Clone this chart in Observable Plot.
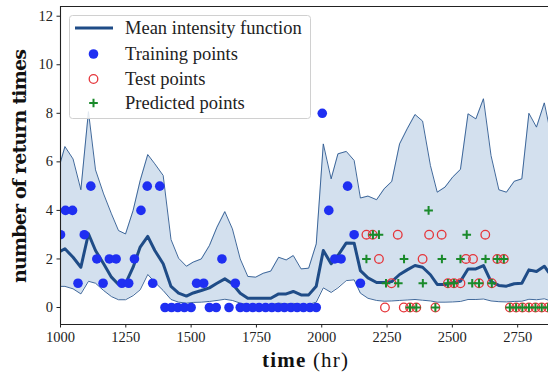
<!DOCTYPE html>
<html><head><meta charset="utf-8">
<script src="https://cdn.jsdelivr.net/npm/d3@7"></script>
<script src="https://cdn.jsdelivr.net/npm/@observablehq/plot@0.6"></script>
<style>
html,body{margin:0;padding:0;background:#fff;overflow:hidden;}
</style>
</head><body><div id="chart"></div>
<script>
// ---- data ----
const bandT = [1000,1017,1048,1078,1107,1134,1165,1195,1222,1249,1278,1305,1334,1361,1393,1423,1452,1482,1508,1539,1570,1599,1629,1658,1688,1717,1747,1776,1805,1835,1864,1891,1921,1950,1979,2006,2036,2062,2094,2124,2148,2177,2210,2239,2268,2298,2327,2357,2386,2416,2442,2472,2501,2531,2560,2590,2619,2648,2678,2707,2737,2766,2793,2822,2852,2868];
const upper = [5.99,6.63,6.12,4.85,8.07,5.67,4.68,3.86,3.17,3.03,4.0,5.23,6.30,5.92,5.44,2.80,2.03,1.70,1.87,2.0,2.55,3.31,3.95,3.24,2.0,1.28,1.25,1.41,1.50,2.07,1.96,2.14,1.59,1.62,2.62,6.74,5.30,6.33,6.43,6.06,4.51,4.59,4.44,4.89,5.19,6.74,7.36,7.95,7.68,5.85,4.75,4.96,5.37,5.69,7.98,7.77,8.60,6.26,4.85,4.75,5.20,5.30,8.0,7.43,8.43,7.6];
const meanI = [2.32,2.42,2.07,1.66,3.04,2.35,1.80,1.25,0.95,0.98,1.66,2.49,2.93,2.35,1.80,0.87,0.59,0.47,0.60,0.70,0.81,1.00,1.18,0.98,0.59,0.38,0.38,0.38,0.38,0.56,0.56,0.66,0.52,0.52,0.88,2.35,1.80,2.14,2.66,2.65,1.52,1.22,1.03,1.03,1.07,1.36,1.55,1.73,1.66,1.35,0.95,0.95,1.02,1.08,1.59,1.59,1.73,1.07,0.91,0.88,0.98,1.00,1.55,1.48,1.70,1.46];
const lower = [0.87,0.87,0.77,0.56,1.08,1.0,0.70,0.45,0.32,0.32,0.49,0.73,1.36,1.04,0.70,0.33,0.22,0.18,0.21,0.22,0.25,0.29,0.34,0.29,0.18,0.12,0.12,0.12,0.12,0.18,0.15,0.17,0.13,0.13,0.22,0.81,0.62,0.81,1.11,1.14,0.59,0.38,0.29,0.26,0.27,0.29,0.31,0.33,0.30,0.27,0.22,0.22,0.23,0.25,0.33,0.33,0.35,0.27,0.24,0.23,0.25,0.26,0.34,0.32,0.36,0.30];

const trainT = [1000,1019,1046,1067,1091,1116,1139,1163,1187,1213,1235,1261,1283,1308,1332,1353,1380,1400,1425,1449,1474,1500,1521,1548,1570,1596,1618,1645,1669,1688,1712,1736,1760,1785,1809,1833,1857,1882,1906,1930,1955,1979,2002,2027,2050,2074,2099,2124,2148];
const trainY = [3,4,4,1,3,5,2,1,2,2,1,1,2,4,5,1,5,0,0,0,0,0,1,1,0,0,2,0,1,0,0,0,0,0,0,0,0,0,0,0,0,0,8,4,2,2,5,3,1];

const testT = [2171,2195,2291,2411,2459,2626, 2219,2386,2552,2579,2672,2697, 2267,2483,2506,2531,2602,2651, 2242,2314,2338,2362,2435,2720,2744,2768,2793,2818,2842,2866];
const testY = [3,3,3,3,3,3, 2,2,2,2,2,2, 1,1,1,1,1,1, 0,0,0,0,0,0,0,0,0,0,0,0];

const predT = [2409, 2196,2219,2555, 2171,2315,2460,2531,2627,2672,2697, 2246,2293,2387,2483,2506,2576,2602,2651, 2338,2362,2435,2720,2744,2768,2793,2818,2842,2866];
const predY = [4, 3,3,3, 2,2,2,2,2,2,2, 1,1,1,1,1,1,1,1, 0,0,0,0,0,0,0,0,0,0];

const xTicks = [1000,1250,1500,1750,2000,2250,2500,2750];
const yTicks = [0,2,4,6,8,10,12];
const legendLabels = ["Mean intensity function","Training points","Test points","Predicted points"];
const xLabelBold = "time", xLabelRest = " (hr)";
const yLabel = "number of return times";

// ---- build tables ----
const band = bandT.map((t,i)=>({t, hi:upper[i], mu:meanI[i], lo:lower[i]}));
const train = trainT.map((t,i)=>({t, y:trainY[i]}));
const test = testT.map((t,i)=>({t, y:testY[i]}));
const pred = predT.map((t,i)=>({t, y:predY[i]}));

const C = {band:"#d3e0ee", edge:"#2b5890", mean:"#1f4c87", train:"#1f2ff2", test:"#e5363b", pred:"#1a8a2b"};
const serif = "'Liberation Serif', 'DejaVu Serif', serif";
const plusR = 2.9, dotR = 4.8;

const chart = Plot.plot({
  width: 548, height: 372,
  marginLeft: 60, marginRight: 0, marginTop: 6, marginBottom: 48,
  style: {fontFamily: serif, fontSize: "14.5px", color: "#222", background: "#fff"},
  x: {domain: [1000, 2868], ticks: xTicks, tickSize: 3.5, tickPadding: 4, label: null, tickFormat: d => String(d)},
  y: {domain: [-0.7, 12.4], ticks: yTicks, tickSize: 3.5, tickPadding: 4, label: null},
  marks: [
    Plot.areaY(band, {x:"t", y1:"lo", y2:"hi", fill:C.band, clip:true}),
    Plot.line(band, {x:"t", y:"hi", stroke:C.edge, strokeWidth:0.9, clip:true}),
    Plot.line(band, {x:"t", y:"lo", stroke:C.edge, strokeWidth:0.9, clip:true}),
    Plot.line(band, {x:"t", y:"mu", stroke:C.mean, strokeWidth:3, clip:true}),
    Plot.dot(train, {x:"t", y:"y", r:dotR, fill:C.train, stroke:"none", clip:true}),
    Plot.dot(test, {x:"t", y:"y", r:4.3, fill:"none", stroke:C.test, strokeWidth:1.3, clip:true}),
    Plot.dot(pred, {x:"t", y:"y", r:plusR, symbol:"plus", stroke:C.pred, strokeWidth:2, clip:true}),
    Plot.ruleX([1000], {stroke:"#222", strokeWidth:1.1}),
    Plot.ruleY([-0.7], {stroke:"#222", strokeWidth:1.1}),
    Plot.ruleY([12.4], {stroke:"#222", strokeWidth:1.1})
  ]
});
document.getElementById("chart").appendChild(chart);

const svg = d3.select(chart);
// ---- axis labels ----
const xl = svg.append("text").attr("x",305).attr("y",367).attr("text-anchor","middle")
  .attr("font-family",serif).attr("font-size",21).attr("fill","#111")
  .attr("textLength",86).attr("lengthAdjust","spacing");
xl.append("tspan").attr("font-weight","bold").text(xLabelBold);
xl.append("tspan").text(xLabelRest);
svg.append("text").attr("transform","translate(26,166) rotate(-90)").attr("text-anchor","middle")
  .attr("font-family","'DejaVu Serif', serif").attr("font-weight","bold").attr("font-size",19).attr("fill","#111")
  .attr("textLength",234).attr("lengthAdjust","spacing").text(yLabel);

// ---- legend ----
const g = svg.append("g").attr("font-family", serif).attr("font-size", 18.5);
g.append("rect").attr("x",69.5).attr("y",15.5).attr("width",241).attr("height",103).attr("rx",3)
  .attr("fill","#fff").attr("fill-opacity",0.85).attr("stroke","#d0d0d0");
const rowsY = [28, 54, 79, 103];
g.append("line").attr("x1",75).attr("x2",113).attr("y1",rowsY[0]).attr("y2",rowsY[0]).attr("stroke",C.mean).attr("stroke-width",3);
g.append("circle").attr("cx",93.5).attr("cy",rowsY[1]).attr("r",dotR).attr("fill",C.train);
g.append("circle").attr("cx",93.5).attr("cy",rowsY[2]).attr("r",4.3).attr("fill","none").attr("stroke",C.test).attr("stroke-width",1.3);
g.append("path").attr("d",d3.symbol(d3.symbolPlus, Math.PI*plusR*plusR)()).attr("transform",`translate(93.5,${rowsY[3]})`).attr("fill","none").attr("stroke",C.pred).attr("stroke-width",2);
legendLabels.forEach((s,i)=>{
  g.append("text").attr("x",125).attr("y",rowsY[i]).attr("dy","0.35em").attr("text-anchor","start").attr("fill","#222").text(s);
});
</script>
</body></html>
